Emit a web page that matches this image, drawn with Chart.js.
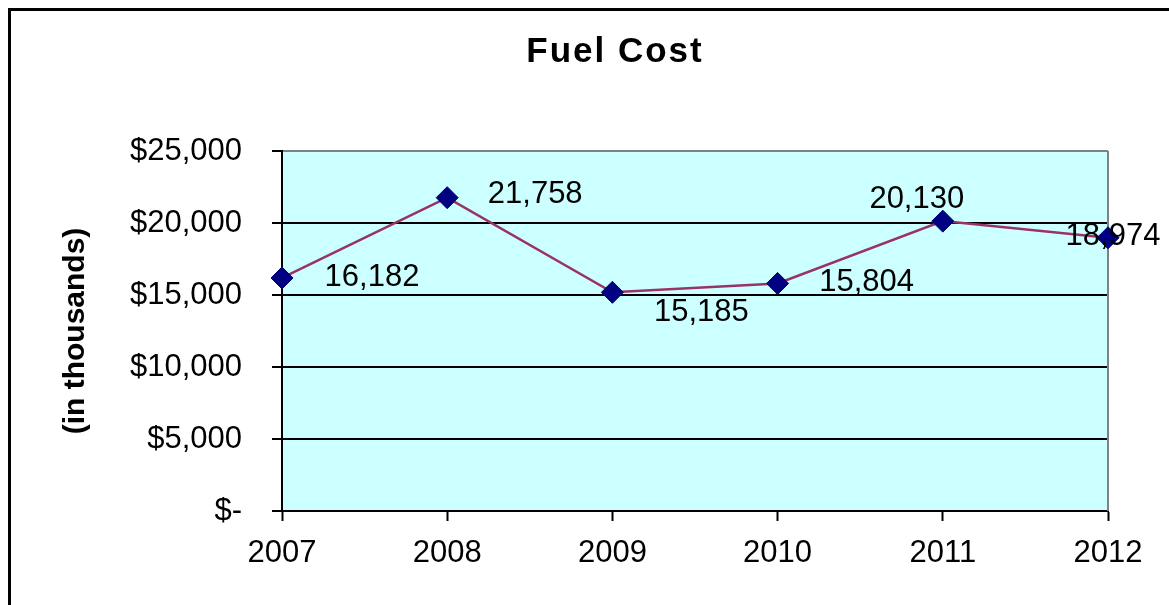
<!DOCTYPE html>
<html>
<head>
<meta charset="utf-8">
<script src="https://cdn.jsdelivr.net/npm/chart.js@4.4.1/dist/chart.umd.min.js"></script>
<style>
  body { margin: 0; background: #fff; }
  #wrap { width: 1169px; height: 605px; }
</style>
</head>
<body>
<div id="wrap"><canvas id="fuel" width="1169" height="605"></canvas></div>
<script>
// data
const years = ['2007', '2008', '2009', '2010', '2011', '2012'];
const fuelCost = [16182, 21758, 15185, 15804, 20130, 18974];
const yTicks = [0, 5000, 10000, 15000, 20000, 25000];
const chartTitle = 'Fuel Cost';
const yTitle = '(in thousands)';

// where each value label sits relative to its point (px)
const labelOffsets = [[90, -1], [88, -3], [89, 20], [89, -1], [-26, -22], [5, -1]];

const FONT = "'Liberation Sans', Arial, sans-serif";

const chartDecor = {
  id: 'chartDecor',
  beforeDraw(chart) {
    const ctx = chart.ctx, a = chart.chartArea;
    ctx.save();
    ctx.fillStyle = '#fff';
    ctx.fillRect(0, 0, chart.width, chart.height);
    ctx.fillStyle = '#CCFFFF';
    ctx.fillRect(a.left, a.top, a.right - a.left, a.bottom - a.top);
    // outer frame, runs off the right and bottom edges
    ctx.strokeStyle = '#000';
    ctx.lineWidth = 3;
    ctx.strokeRect(9.5, 9.5, chart.width + 20, chart.height + 20);
    ctx.restore();
  },
  beforeDatasetsDraw(chart) {
    const ctx = chart.ctx, a = chart.chartArea;
    ctx.save();
    ctx.strokeStyle = '#808080';
    ctx.lineWidth = 2;
    ctx.beginPath();
    ctx.moveTo(a.right, a.top);
    ctx.lineTo(a.right, a.bottom);
    ctx.stroke();
    ctx.restore();
  },
  afterDraw(chart) {
    const ctx = chart.ctx;
    ctx.save();
    ctx.fillStyle = '#000';
    ctx.textAlign = 'center';
    ctx.textBaseline = 'middle';
    ctx.font = 'bold 35px ' + FONT;
    ctx.letterSpacing = '2px';
    ctx.fillText(chartTitle, 615, 52);
    ctx.letterSpacing = '0px';
    ctx.font = '31px ' + FONT;
    const meta = chart.getDatasetMeta(0);
    meta.data.forEach((pt, i) => {
      const o = labelOffsets[i];
      ctx.fillText(fuelCost[i].toLocaleString('en-US'), pt.x + o[0], pt.y + o[1]);
    });
    ctx.restore();
  }
};

new Chart(document.getElementById('fuel'), {
  type: 'line',
  data: {
    labels: years,
    datasets: [{
      data: fuelCost,
      borderColor: '#993366',
      borderWidth: 2.5,
      tension: 0,
      clip: false,
      pointStyle: 'rectRot',
      pointRadius: 11,
      pointHoverRadius: 11,
      pointBackgroundColor: '#000080',
      pointBorderColor: '#000080',
      pointBorderWidth: 1
    }]
  },
  options: {
    responsive: false,
    animation: false,
    events: [],
    layout: { padding: { top: 151, right: 61, bottom: 0, left: 0 } },
    plugins: {
      legend: { display: false },
      title: { display: false },
      tooltip: { enabled: false }
    },
    scales: {
      x: {
        offset: false,
        afterFit(scale) { scale.height = 94; },
        grid: { drawOnChartArea: false, drawTicks: true, tickLength: 10, tickColor: '#000', tickWidth: 2 },
        border: { color: '#000', width: 2 },
        ticks: { color: '#000', padding: 14, font: { family: FONT, size: 31 }, maxRotation: 0 }
      },
      y: {
        min: 0,
        max: 25000,
        afterFit(scale) { scale.width = 282; },
        afterBuildTicks(scale) { scale.ticks = yTicks.map(v => ({ value: v })); },
        grid: {
          color: c => c.tick && c.tick.value === 25000 ? '#808080' : '#000',
          lineWidth: 2,
          tickLength: 10,
          tickColor: '#000',
          tickWidth: 2
        },
        border: { color: '#000', width: 2 },
        ticks: {
          color: '#000',
          padding: 30,
          font: { family: FONT, size: 31 },
          callback: v => v === 0 ? '$-' : '$' + v.toLocaleString('en-US')
        },
        title: {
          display: true,
          text: yTitle,
          color: '#000',
          font: { family: FONT, size: 30, weight: 'bold' },
          padding: { top: 58, bottom: 0 }
        }
      }
    }
  },
  plugins: [chartDecor]
});
</script>
</body>
</html>
